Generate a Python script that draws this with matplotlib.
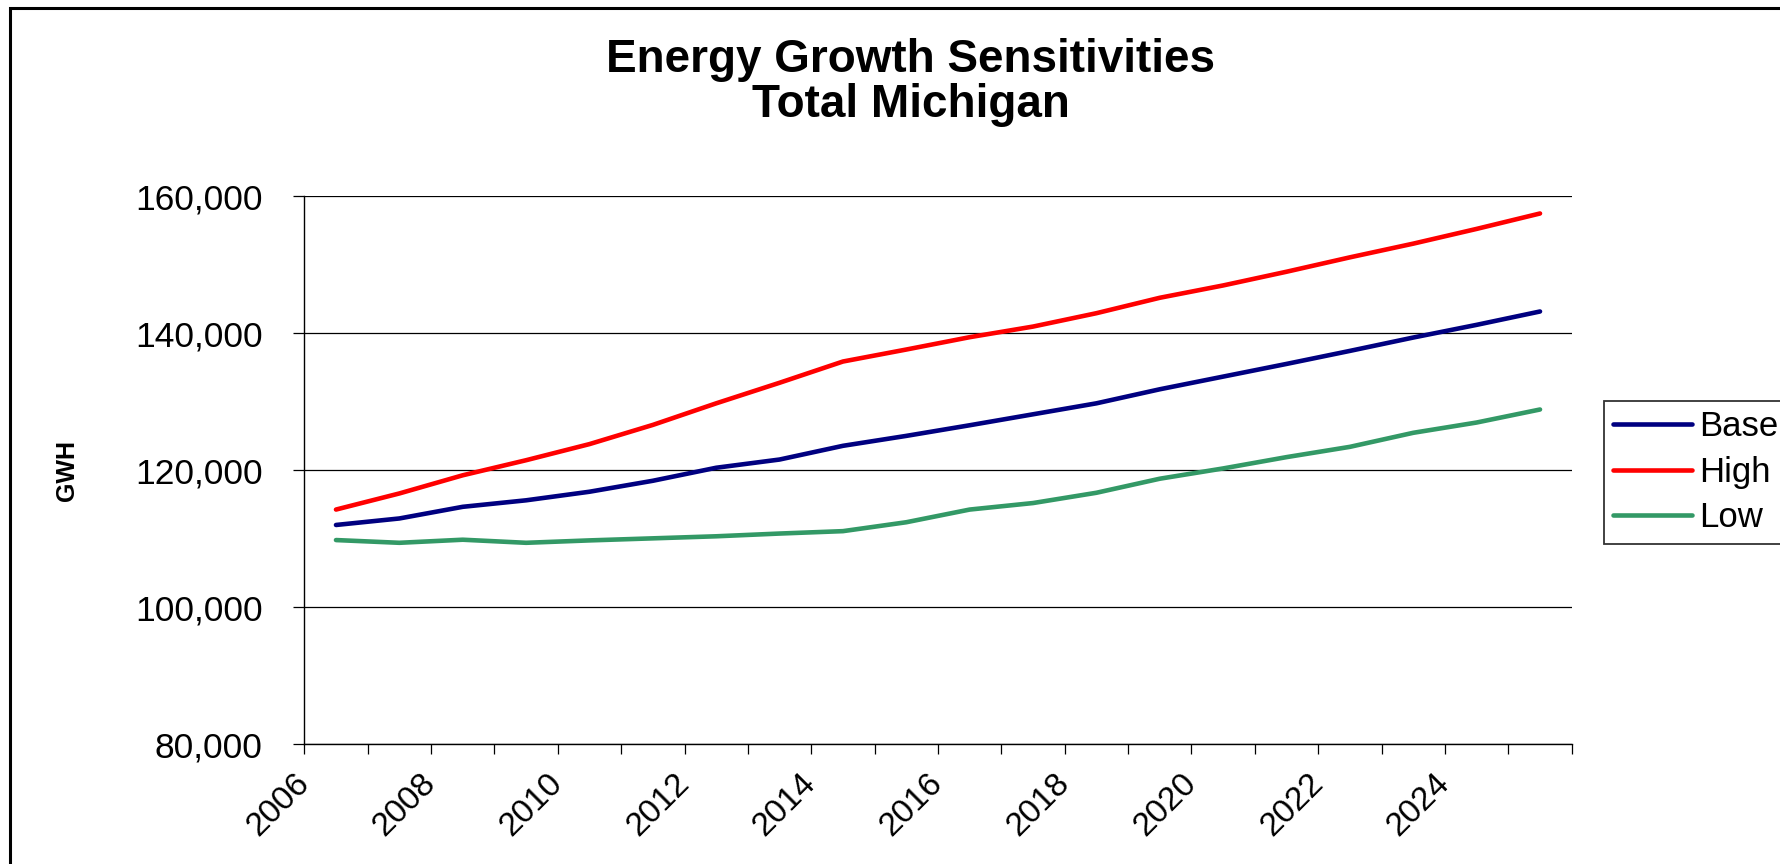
import matplotlib
matplotlib.use("Agg")
import matplotlib.pyplot as plt
from matplotlib.patches import Rectangle
from matplotlib.ticker import FuncFormatter, MultipleLocator

# Energy forecast by scenario, GWH
years = list(range(2006, 2026))
base = [112000, 112950, 114650, 115600, 116850, 118450, 120350, 121550, 123550, 125000,
        126550, 128150, 129750, 131800, 133650, 135500, 137400, 139350, 141200, 143150]
high = [114250, 116600, 119250, 121450, 123800, 126600, 129750, 132750, 135850, 137600,
        139400, 140950, 142900, 145150, 146950, 148950, 151050, 153050, 155200, 157450]
low = [109800, 109400, 109850, 109400, 109750, 110050, 110350, 110750, 111100, 112400,
       114250, 115200, 116700, 118750, 120250, 121900, 123400, 125450, 126950, 128850]
year_labels = [str(y) for y in range(2006, 2026, 2)]

plt.rcParams['font.family'] = ['Liberation Sans', 'DejaVu Sans']

W, H = 1780, 864
fig = plt.figure(figsize=(W / 100, H / 100), dpi=100)
ax = fig.add_axes([304.3 / W, 1 - 744.3 / H, (1571.7 - 304.3) / W, (744.3 - 196) / H])

# each year plotted in the middle of its category slot
xs = [y + 0.5 for y in years]
ax.plot(xs, base, color='#000080', lw=3.3, label='Base', solid_capstyle='round')
ax.plot(xs, high, color='#FF0000', lw=3.3, label='High', solid_capstyle='round')
ax.plot(xs, low, color='#339966', lw=3.3, label='Low', solid_capstyle='round')

ax.set_xlim(2006, 2026)
ax.set_ylim(80000, 160000)
ax.yaxis.set_major_locator(MultipleLocator(20000))
ax.yaxis.set_major_formatter(FuncFormatter(lambda v, p: f'{int(v):,}'))
ax.grid(axis='y', color='black', lw=0.9)
ax.set_axisbelow(True)

ax.set_xticks(range(2006, 2026, 2))
ax.set_xticklabels(year_labels, rotation=45, ha='right', va='center', rotation_mode='anchor')
ax.set_xticks(range(2006, 2027), minor=True)
ax.tick_params(axis='x', which='both', direction='out', length=7, width=0.9, labelsize=24, pad=18)
ax.tick_params(axis='y', direction='out', length=8, width=0.9, labelsize=25.5, pad=22)

for s in ['top', 'right']:
    ax.spines[s].set_visible(False)
ax.spines['left'].set_linewidth(1.0)
ax.spines['bottom'].set_linewidth(1.0)

fig.text(67 / W, 1 - 471 / H, 'GWH', rotation=90, fontsize=18, fontweight='bold',
         ha='center', va='center')

fig.text(911 / W, 1 - 60 / H, 'Energy Growth Sensitivities', fontsize=33,
         fontweight='bold', ha='center', va='center')
fig.text(911 / W, 1 - 105 / H, 'Total Michigan', fontsize=33,
         fontweight='bold', ha='center', va='center')

leg = fig.legend(loc='upper left', bbox_to_anchor=(1604 / W, 1 - 401 / H), borderaxespad=0,
                 fontsize=25, handlelength=2.25, handletextpad=0.22, labelspacing=0.36,
                 borderpad=0.27, fancybox=False, frameon=True)
leg.get_frame().set_edgecolor('black')
leg.get_frame().set_linewidth(1.3)

# chart area outline
fig.patches.append(Rectangle((10 / W, -0.1), 2.0, 1.1 - 8 / H, transform=fig.transFigure,
                             fill=False, ec='black', lw=2.2))

fig.savefig('out.png', dpi=100)
